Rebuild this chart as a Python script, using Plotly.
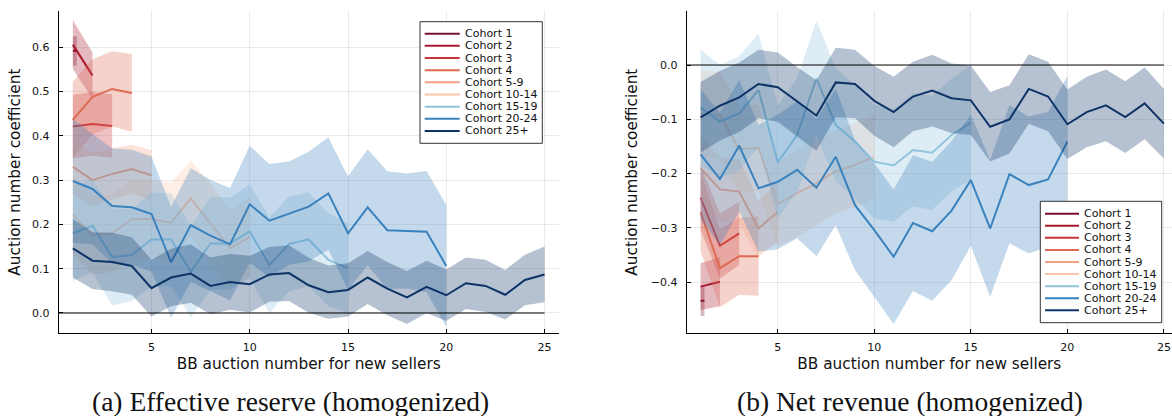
import plotly.graph_objects as go

W, H = 1172, 416

cohorts = ["Cohort 1", "Cohort 2", "Cohort 3", "Cohort 4", "Cohort 5-9",
           "Cohort 10-14", "Cohort 15-19", "Cohort 20-24", "Cohort 25+"]
colors = ["#760f2d", "#a8182e", "#c8363a", "#dd6a52", "#f2a283",
          "#fcc6aa", "#92c4de", "#3a82bd", "#0e3467"]

auction_n = [1, 2, 3, 4, 5, 6, 7, 8, 9, 10, 11, 12, 13, 14, 15, 16, 17, 18, 19, 20,
             21, 22, 23, 24, 25]
cohort1_x = [1, 1.2]

# ---------------- (a) Effective reserve (homogenized) ----------------
a_mean = [
    [0.592, 0.592],
    [0.606, 0.536],
    [0.421, 0.427, 0.422],
    [0.436, 0.488, 0.506, 0.497],
    [0.330, 0.300, 0.314, 0.325, 0.311],
    [0.221, 0.176, 0.180, 0.212, 0.212, 0.204, 0.259, 0.203, 0.146, 0.172],
    [0.180, 0.197, 0.126, 0.131, 0.166, 0.166, 0.093, 0.157, 0.157, 0.184,
     0.108, 0.156, 0.166, 0.120, 0.101],
    [0.298, 0.280, 0.2415, 0.2386, 0.2235, 0.1144, 0.1986, 0.1745, 0.155, 0.2454,
     0.2084, 0.225, 0.240, 0.270, 0.180, 0.2386, 0.187, 0.185, 0.1835, 0.106],
    [0.146, 0.118, 0.115, 0.106, 0.056, 0.080, 0.089, 0.061, 0.070, 0.065,
     0.087, 0.090, 0.0625, 0.047, 0.052, 0.080, 0.055, 0.035, 0.059, 0.040,
     0.067, 0.061, 0.041, 0.0745, 0.087],
]
a_ci = [
    [0.033, 0.033],
    [0.055, 0.052],
    [0.072, 0.072, 0.072],
    [0.086, 0.085, 0.085, 0.088],
    [0.062, 0.060, 0.058, 0.055, 0.057],
    [0.090, 0.090, 0.088, 0.090, 0.088, 0.090, 0.085, 0.090, 0.088, 0.090],
    [0.108, 0.105, 0.110, 0.104, 0.106, 0.105, 0.103, 0.105, 0.104, 0.106,
     0.108, 0.107, 0.106, 0.105, 0.101],
    [0.140, 0.125, 0.130, 0.130, 0.130, 0.125, 0.128, 0.126, 0.127, 0.132,
     0.128, 0.117, 0.124, 0.127, 0.128, 0.131, 0.133, 0.130, 0.137, 0.138],
    [0.066, 0.064, 0.066, 0.065, 0.064, 0.065, 0.066, 0.064, 0.063, 0.064,
     0.062, 0.063, 0.062, 0.060, 0.060, 0.060, 0.060, 0.060, 0.059, 0.058,
     0.058, 0.059, 0.056, 0.057, 0.063],
]

# ---------------- (b) Net revenue (homogenized) ----------------
b_mean = [
    [-0.434, -0.434],
    [-0.408, -0.399],
    [-0.244, -0.333, -0.310],
    [-0.271, -0.374, -0.352, -0.352],
    [-0.190, -0.229, -0.233, -0.301, -0.270],
    [-0.090, -0.092, -0.155, -0.153, -0.256, -0.236, -0.218, -0.196, -0.184, -0.169],
    [-0.078, -0.104, -0.089, -0.046, -0.179, -0.129, -0.0245, -0.1105, -0.141, -0.178,
     -0.185, -0.1565, -0.1615, -0.129, -0.106],
    [-0.1645, -0.210, -0.1486, -0.227, -0.215, -0.193, -0.226, -0.169, -0.258, -0.304,
     -0.353, -0.291, -0.306, -0.268, -0.212, -0.301, -0.201, -0.221, -0.2105, -0.141],
    [-0.0964, -0.075, -0.0595, -0.035, -0.041, -0.0675, -0.093, -0.032, -0.035, -0.066,
     -0.0866, -0.058, -0.047, -0.061, -0.065, -0.1136, -0.100, -0.044, -0.058, -0.109,
     -0.0866, -0.0742, -0.0958, -0.0705, -0.108],
]
b_ci = [
    [0.028, 0.028],
    [0.043, 0.045],
    [0.060, 0.060, 0.058],
    [0.072, 0.072, 0.071, 0.073],
    [0.060, 0.058, 0.060, 0.052, 0.055],
    [0.080, 0.080, 0.078, 0.080, 0.078, 0.080, 0.078, 0.077, 0.078, 0.077],
    [0.106, 0.104, 0.105, 0.104, 0.104, 0.105, 0.106, 0.105, 0.104, 0.105,
     0.103, 0.104, 0.105, 0.104, 0.105],
    [0.120, 0.122, 0.121, 0.117, 0.124, 0.126, 0.126, 0.126, 0.120, 0.123,
     0.124, 0.125, 0.128, 0.128, 0.121, 0.126, 0.127, 0.126, 0.124, 0.121],
    [0.065, 0.064, 0.064, 0.063, 0.064, 0.064, 0.065, 0.064, 0.063, 0.064,
     0.065, 0.064, 0.066, 0.064, 0.064, 0.064, 0.063, 0.064, 0.064, 0.064,
     0.065, 0.066, 0.066, 0.066, 0.064],
]

zero_x = [0, 25]
zero_y = [0, 0]

a_yticks = [0.0, 0.1, 0.2, 0.3, 0.4, 0.5, 0.6]
b_yticks = [-0.4, -0.3, -0.2, -0.1, 0.0]
x_ticks = [5, 10, 15, 20, 25]


def rgba(hex_color, a):
    h = hex_color.lstrip("#")
    r, g, b = int(h[0:2], 16), int(h[2:4], 16), int(h[4:6], 16)
    return f"rgba({r},{g},{b},{a})"


fig = go.Figure()


def add_panel(means, cis, xa, ya, zero_color, zero_w):
    for i, (m, e) in enumerate(zip(means, cis)):
        xs = cohort1_x if i == 0 else auction_n[:len(m)]
        lo = [v - d for v, d in zip(m, e)]
        hi = [v + d for v, d in zip(m, e)]
        fig.add_trace(go.Scatter(
            x=list(xs) + list(xs)[::-1], y=hi + lo[::-1],
            mode="lines", fill="toself", fillcolor=rgba(colors[i], 0.3),
            line=dict(width=0, color=rgba(colors[i], 0)),
            hoverinfo="skip", showlegend=False, xaxis=xa, yaxis=ya))
        fig.add_trace(go.Scatter(
            x=list(xs), y=m, mode="lines", name=cohorts[i],
            line=dict(color=colors[i], width=2),
            showlegend=False, xaxis=xa, yaxis=ya))
    fig.add_trace(go.Scatter(
        x=zero_x, y=zero_y, mode="lines",
        line=dict(color=zero_color, width=zero_w),
        showlegend=False, hoverinfo="skip", xaxis=xa, yaxis=ya))


add_panel(a_mean, a_ci, "x", "y", "rgba(0,0,0,0.5)", 2)
add_panel(b_mean, b_ci, "x2", "y2", "rgba(0,0,0,0.65)", 1.5)

FONT = "DejaVu Sans"
tick_font = dict(family=FONT, size=11, color="#111")
title_font = dict(family=FONT, size=15.3, color="#111")

common_axis = dict(
    showline=True, linecolor="black", linewidth=1, mirror=False,
    ticks="inside", ticklen=4, tickwidth=1, tickcolor="black",
    showgrid=True, gridcolor="rgba(0,0,0,0.08)", gridwidth=1,
    zeroline=False, tickfont=tick_font,
)

y_dom = [1 - 333.3 / H, 1 - 11 / H]

fig.update_layout(
    width=W, height=H,
    margin=dict(l=0, r=0, t=0, b=0),
    paper_bgcolor="white", plot_bgcolor="white",
    showlegend=False,
    font=dict(family=FONT, color="#111"),
    xaxis=dict(common_axis, domain=[58.7 / W, 558.7 / W], range=[0.28, 25.72],
               tickvals=x_ticks, anchor="y", ticklabelstandoff=3,
               title=dict(text="BB auction number for new sellers", font=title_font,
                          standoff=5)),
    yaxis=dict(common_axis, domain=y_dom, range=[-0.046, 0.682],
               tickvals=a_yticks, tickformat=".1f", anchor="x", ticklabelstandoff=6,
               title=dict(text="Auction number coefficient", font=title_font,
                          standoff=7)),
    xaxis2=dict(common_axis, domain=[686.7 / W, 1.0], range=[0.28, 25.42],
                tickvals=x_ticks, anchor="y2", ticklabelstandoff=3,
                title=dict(text="BB auction number for new sellers", font=title_font,
                           standoff=5)),
    yaxis2=dict(common_axis, domain=y_dom, range=[-0.494, 0.0995],
                tickvals=b_yticks, tickformat=".1f", anchor="x2", ticklabelstandoff=6,
                title=dict(text="Auction number coefficient", font=title_font,
                           standoff=9)),
)

# ---- legends (drawn as boxes, sample lines and text) ----
shapes = []
annotations = []


def add_legend(box, line_x0, line_x1, text_x, first_y, step):
    x0, y0, x1, y1 = box
    shapes.append(dict(type="rect", xref="paper", yref="paper",
                       x0=x0 / W, x1=x1 / W, y0=1 - y1 / H, y1=1 - y0 / H,
                       line=dict(color="#333", width=1), fillcolor="white",
                       layer="above"))
    for i, name in enumerate(cohorts):
        yy = first_y + i * step
        shapes.append(dict(type="line", xref="paper", yref="paper",
                           x0=line_x0 / W, x1=line_x1 / W,
                           y0=1 - yy / H, y1=1 - yy / H,
                           line=dict(color=colors[i], width=2), layer="above"))
        annotations.append(dict(xref="paper", yref="paper", x=text_x / W,
                                y=1 - yy / H, text=name, showarrow=False,
                                xanchor="left", yanchor="middle",
                                font=dict(family=FONT, size=11, color="#111"),
                                borderpad=0))


add_legend((420, 21.7, 542.3, 143.3), 424.7, 459.7, 463.5, 33.7, 12.16)
add_legend((1040.3, 201.3, 1161.7, 322.7), 1045, 1079, 1082.8, 213.7, 12.08)

cap_font = dict(family="Liberation Serif", size=27.5, color="#111")
annotations.append(dict(xref="paper", yref="paper", x=290 / W, y=1 - 401 / H,
                        text="(a) Effective reserve (homogenized)", showarrow=False,
                        xanchor="center", yanchor="middle", font=cap_font))
annotations.append(dict(xref="paper", yref="paper", x=910 / W, y=1 - 401 / H,
                        text="(b) Net revenue (homogenized)", showarrow=False,
                        xanchor="center", yanchor="middle", font=cap_font))

fig.update_layout(shapes=shapes, annotations=annotations)

fig.write_html("out.html")
